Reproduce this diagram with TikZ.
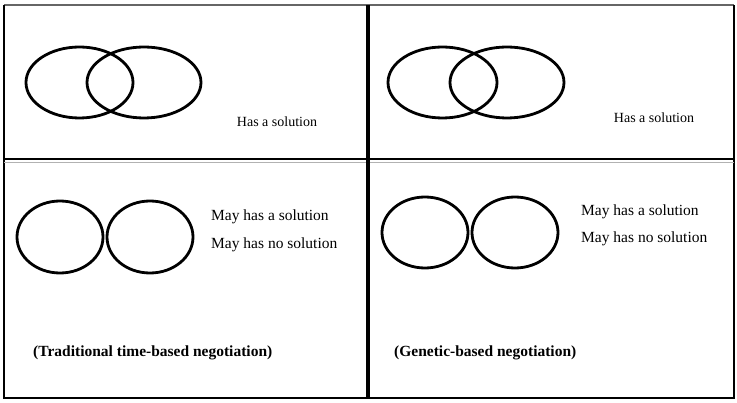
\documentclass[tikz,border=0pt]{standalone}
\usepackage{fontspec}
\setmainfont{Liberation Serif}
\usepackage{tikz}
\usetikzlibrary{shapes.geometric, positioning}

\begin{document}
\begin{tikzpicture}[x=1pt, y=-1pt,
  ring/.style={ellipse, draw=black, line width=2.8pt, inner sep=0pt},
  note/.style={font=\fontsize{15.5}{18}\selectfont, inner sep=0pt, anchor=west},
  small/.style={font=\fontsize{14}{16}\selectfont, inner sep=0pt},
  caption/.style={font=\fontsize{15.5}{18}\selectfont\bfseries, inner sep=0pt, anchor=west},
  frame/.style={draw=black, line width=1.2pt}
]
  \useasboundingbox (0,0) rectangle (737,403);

  % frame of the four cells
  \draw[frame, draw=black!60] (4,5) -- (734,5);
  \draw[frame] (4,5) -- (4,398) -- (734,398) -- (734,5);
  \draw[frame] (4,159) -- (734,159);
  \draw[draw=black!30, line width=0.8pt] (4,162.5) -- (734,162.5);
  \draw[draw=black, line width=3.5pt] (368,5) -- (368,398);

  % top left
  \node[ring, minimum width=107pt, minimum height=71pt] (tlA) at (79.5,82.5) {};
  \node[ring, minimum width=114pt, minimum height=71pt] (tlB) at (144,82.5) {};
  \node[small] (tlText) at (277,122) {Has a solution};

  % top right
  \node[ring, minimum width=109pt, minimum height=71pt] (trA) at (442.5,82.5) {};
  \node[ring, minimum width=114pt, minimum height=71pt] (trB) at (507,82.5) {};
  \node[small] (trText) at (654,118) {Has a solution};

  % bottom left
  \node[ring, minimum width=86pt, minimum height=72pt] (blA) at (60,237) {};
  \node[ring, minimum width=86pt, minimum height=72pt] (blB) at (150,237) {};
  \node[note] (blYes) at (211,217) {May has a solution};
  \node[note, below=13pt of blYes.south west, anchor=north west] (blNo) {May has no solution};
  \node[caption] (blCap) at (33,353) {(Traditional time-based negotiation)};

  % bottom right
  \node[ring, minimum width=86pt, minimum height=71pt] (brA) at (425,232.5) {};
  \node[ring, minimum width=86pt, minimum height=71pt] (brB) at (515,232.5) {};
  \node[note] (brYes) at (581,212) {May has a solution};
  \node[note, below=12pt of brYes.south west, anchor=north west] (brNo) {May has no solution};
  \node[caption] (brCap) at (394,353) {(Genetic-based negotiation)};
\end{tikzpicture}
\end{document}
